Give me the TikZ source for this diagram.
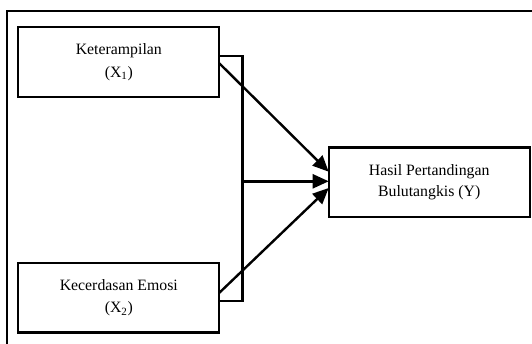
\documentclass[tikz,border=0pt]{standalone}
\usepackage{fontspec}
\setmainfont{Liberation Serif}
\usetikzlibrary{arrows.meta}

\begin{document}
\begin{tikzpicture}[
		x=1pt, y=-1pt,
		node distance=235.8pt,
		varbox/.style={draw, line width=2.2pt, minimum width=201pt, minimum height=69.5pt, inner sep=0pt, outer sep=0pt, align=center, font=\fontsize{15.8}{22.5}\selectfont},
		link/.style={line width=2.2pt},
		arrowlink/.style={line width=2.4pt, -{Triangle[length=16pt, width=14pt]}}
		]
		\useasboundingbox (0,0) rectangle (532,343);
		% Frame
		\draw[line width=2.2pt] (7.3,360) |- (550,11);
		
		% Variables
		\node[varbox] (x1) at (118.8,62) {Keterampilan\\(X\textsubscript{1})};
		\node[varbox, below of=x1] (x2) {Kecerdasan Emosi\\(X\textsubscript{2})};
		\node[varbox, font=\fontsize{15.8}{20.7}\selectfont] (y) at (429.2,182.3) {Hasil Pertandingan\\Bulutangkis (Y)};
		
		% Bracket
		\coordinate (bt) at (242.5,55.7);
		\coordinate (bm) at (242.5,181.3);
		\coordinate (bb) at (242.5,300.7);
		\draw[link] (x1.east |- bt) -- (bt) -- (bb) -- (x2.east |- bb);
		
		% Arrows
		\draw[arrowlink] ([yshift=-1.3pt]x1.east) -- ([yshift=10.6pt]y.west);
		\draw[arrowlink] (bm) -- (bm -| y.west);
		\draw[arrowlink] ([yshift=5pt]x2.east) -- ([yshift=-5.7pt]y.west);
	\end{tikzpicture}
\end{document}
